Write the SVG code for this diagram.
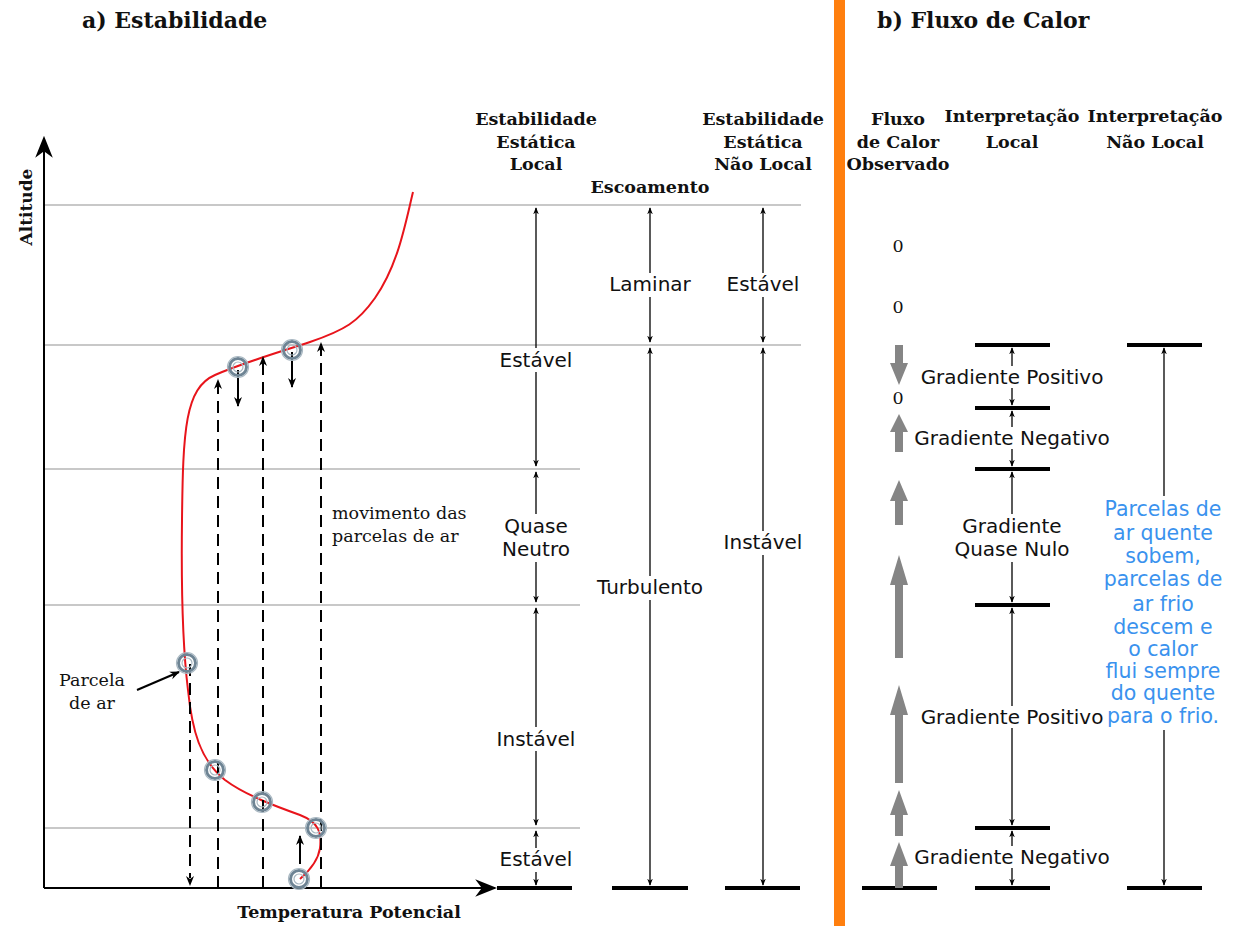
<svg xmlns="http://www.w3.org/2000/svg" width="1236" height="926" viewBox="0 0 1236 926">
<defs>
<style>
.ttl{font-family:"DejaVu Serif",serif;font-weight:bold;font-size:22px;fill:#111}
.hd{font-family:"DejaVu Serif",serif;font-weight:bold;font-size:17.5px;fill:#111;text-anchor:middle}
.sr{font-family:"DejaVu Serif",serif;font-size:17.5px;fill:#111}
.sn{font-family:"DejaVu Sans",sans-serif;font-size:20px;fill:#111;text-anchor:middle}
.bl{font-family:"DejaVu Sans",sans-serif;font-size:20.5px;fill:#3a92ee;text-anchor:middle}
.grid{stroke:#c8c8c8;stroke-width:2;fill:none}
.ar{stroke:#000;stroke-width:1.3;fill:none;marker-start:url(#ah);marker-end:url(#ah)}
.bar{stroke:#000;stroke-width:4}
.dash{stroke:#000;stroke-width:2;stroke-dasharray:12,7;fill:none}
.sm{stroke:#000;stroke-width:2;fill:none;marker-end:url(#ah2)}
.gr{fill:#858585}
.pc{fill:none;stroke:#6e8494;stroke-width:3}
.pc2{fill:none;stroke:#a9b8c2;stroke-width:1.2}
</style>
<marker id="ah" viewBox="0 0 10 10" refX="9" refY="5" markerWidth="7" markerHeight="7" orient="auto-start-reverse" markerUnits="userSpaceOnUse"><path d="M0,1 L10,5 L0,9 L3,5 z" fill="#000"/></marker>
<marker id="ah2" viewBox="0 0 10 10" refX="9" refY="5" markerWidth="10" markerHeight="10" orient="auto" markerUnits="userSpaceOnUse"><path d="M0,1 L10,5 L0,9 L3,5 z" fill="#000"/></marker>
<marker id="ah3" viewBox="0 0 10 10" refX="9" refY="5" markerWidth="22" markerHeight="22" orient="auto" markerUnits="userSpaceOnUse"><path d="M0,1 L10,5 L0,9 L3,5 z" fill="#000"/></marker>
<symbol id="parcel" overflow="visible"><circle r="8.5" class="pc"/><circle r="5" class="pc2"/><circle r="10.5" class="pc2"/></symbol>
</defs>
<rect width="1236" height="926" fill="#fff"/>

<rect x="834" y="0" width="11" height="926" fill="#ff7f0e"/>

<text class="ttl" x="82" y="28">a) Estabilidade</text>
<text class="ttl" x="877" y="28">b) Fluxo de Calor</text>

<g id="grid">
<line class="grid" x1="44" y1="205" x2="801" y2="205"/>
<line class="grid" x1="44" y1="345" x2="801" y2="345"/>
<line class="grid" x1="44" y1="469" x2="580" y2="469"/>
<line class="grid" x1="44" y1="605" x2="580" y2="605"/>
<line class="grid" x1="44" y1="828" x2="580" y2="828"/>
</g>

<g id="axes">
<line x1="44" y1="888" x2="44" y2="138" stroke="#000" stroke-width="2" marker-end="url(#ah3)"/>
<line x1="44" y1="888" x2="495" y2="888" stroke="#000" stroke-width="2" marker-end="url(#ah3)"/>
<text class="ttl" style="font-size:17px" transform="translate(32,207) rotate(-90)" text-anchor="middle">Altitude</text>
<text class="ttl" style="font-size:17.5px" x="349" y="918" text-anchor="middle">Temperatura Potencial</text>
</g>

<g id="headers">
<text class="hd" x="536" y="125">Estabilidade</text>
<text class="hd" x="536" y="148">Estática</text>
<text class="hd" x="536" y="170">Local</text>
<text class="hd" x="650" y="193">Escoamento</text>
<text class="hd" x="763" y="125">Estabilidade</text>
<text class="hd" x="763" y="148">Estática</text>
<text class="hd" x="763" y="170">Não Local</text>
<text class="hd" x="898" y="125">Fluxo</text>
<text class="hd" x="898" y="148">de Calor</text>
<text class="hd" x="898" y="170">Observado</text>
<text class="hd" x="1012" y="122">Interpretação</text>
<text class="hd" x="1012" y="148">Local</text>
<text class="hd" x="1155" y="122">Interpretação</text>
<text class="hd" x="1155" y="148">Não Local</text>
</g>

<g id="connectors">
<line class="ar" x1="536" y1="208" x2="536" y2="466"/>
<line class="ar" x1="536" y1="472" x2="536" y2="602"/>
<line class="ar" x1="536" y1="608" x2="536" y2="825"/>
<line class="ar" x1="536" y1="831" x2="536" y2="885"/>
<line class="ar" x1="650" y1="208" x2="650" y2="342"/>
<line class="ar" x1="650" y1="348" x2="650" y2="885"/>
<line class="ar" x1="763" y1="208" x2="763" y2="342"/>
<line class="ar" x1="763" y1="348" x2="763" y2="885"/>
<line class="ar" x1="1012" y1="348" x2="1012" y2="405"/>
<line class="ar" x1="1012" y1="411" x2="1012" y2="466"/>
<line class="ar" x1="1012" y1="472" x2="1012" y2="602"/>
<line class="ar" x1="1012" y1="608" x2="1012" y2="825"/>
<line class="ar" x1="1012" y1="831" x2="1012" y2="885"/>
<line x1="1164" y1="348" x2="1164" y2="496" stroke="#000" stroke-width="1.3" marker-start="url(#ah)"/>
<line x1="1164" y1="730" x2="1164" y2="885" stroke="#000" stroke-width="1.3" marker-end="url(#ah)"/>
</g>

<g id="bars">
<line class="bar" x1="497" y1="888" x2="572" y2="888"/>
<line class="bar" x1="612" y1="888" x2="688" y2="888"/>
<line class="bar" x1="725" y1="888" x2="800" y2="888"/>
<line class="bar" x1="862" y1="888" x2="937" y2="888"/>
<line class="bar" x1="975" y1="888" x2="1050" y2="888"/>
<line class="bar" x1="1127" y1="888" x2="1202" y2="888"/>
<line class="bar" x1="975" y1="345" x2="1050" y2="345"/>
<line class="bar" x1="975" y1="408" x2="1050" y2="408"/>
<line class="bar" x1="975" y1="469" x2="1050" y2="469"/>
<line class="bar" x1="975" y1="605" x2="1050" y2="605"/>
<line class="bar" x1="975" y1="828" x2="1050" y2="828"/>
<line class="bar" x1="1127" y1="345" x2="1202" y2="345"/>
</g>

<g id="labels-a">
<rect x="494" y="348" width="84" height="24" fill="#fff"/>
<text class="sn" x="536" y="367">Estável</text>
<rect x="494" y="514" width="84" height="48" fill="#fff"/>
<text class="sn" x="536" y="533">Quase</text>
<text class="sn" x="536" y="556">Neutro</text>
<rect x="490" y="727" width="92" height="24" fill="#fff"/>
<text class="sn" x="536" y="746">Instável</text>
<rect x="494" y="848" width="84" height="24" fill="#fff"/>
<text class="sn" x="536" y="866">Estável</text>
<rect x="602" y="273" width="96" height="24" fill="#fff"/>
<text class="sn" x="650" y="291">Laminar</text>
<rect x="590" y="576" width="120" height="24" fill="#fff"/>
<text class="sn" x="650" y="594">Turbulento</text>
<rect x="721" y="273" width="84" height="24" fill="#fff"/>
<text class="sn" x="763" y="291">Estável</text>
<rect x="717" y="531" width="92" height="24" fill="#fff"/>
<text class="sn" x="763" y="549">Instável</text>
</g>

<g id="labels-b">
<rect x="916" y="366" width="192" height="22" fill="#fff"/>
<text class="sn" x="1012" y="384">Gradiente Positivo</text>
<rect x="908" y="427" width="208" height="22" fill="#fff"/>
<text class="sn" x="1012" y="445">Gradiente Negativo</text>
<rect x="950" y="514" width="124" height="48" fill="#fff"/>
<text class="sn" x="1012" y="533">Gradiente</text>
<text class="sn" x="1012" y="556">Quase Nulo</text>
<rect x="916" y="706" width="192" height="22" fill="#fff"/>
<text class="sn" x="1012" y="724">Gradiente Positivo</text>
<rect x="908" y="846" width="208" height="22" fill="#fff"/>
<text class="sn" x="1012" y="864">Gradiente Negativo</text>
<text class="bl" x="1163" y="516">Parcelas de</text>
<text class="bl" x="1163" y="540">ar quente</text>
<text class="bl" x="1163" y="563">sobem,</text>
<text class="bl" x="1163" y="586">parcelas de</text>
<text class="bl" x="1163" y="611">ar frio</text>
<text class="bl" x="1163" y="634">descem e</text>
<text class="bl" x="1163" y="656">o calor</text>
<text class="bl" x="1163" y="678">flui sempre</text>
<text class="bl" x="1163" y="700">do quente</text>
<text class="bl" x="1163" y="723">para o frio.</text>
</g>

<g id="flux">
<text class="sr" x="898" y="252" text-anchor="middle">0</text>
<text class="sr" x="898" y="313" text-anchor="middle">0</text>
<text class="sr" x="898" y="404" text-anchor="middle">0</text>
<path class="gr" d="M895,345 h8 v18 h5 l-9,22 l-9,-22 h5 z"/>
<path class="gr" d="M895,452 v-20 h-5 l9,-18 l9,18 h-5 v20 z"/>
<path class="gr" d="M895,525 v-24 h-5 l9,-21 l9,21 h-5 v24 z"/>
<path class="gr" d="M895,658 v-73 h-5 l9,-30 l9,30 h-5 v73 z"/>
<path class="gr" d="M895,783 v-68 h-5 l9,-30 l9,30 h-5 v68 z"/>
<path class="gr" d="M895,836 v-21 h-5 l9,-25 l9,25 h-5 v21 z"/>
<path class="gr" d="M895,888 v-22 h-5 l9,-24 l9,24 h-5 v22 z"/>
</g>

<g id="profile">
<path d="M413,192 C405,225 398,265 375,298 C358,322 345,330 310,342 C280,352 245,362 215,375 C185,388 183,430 182,520 C181,600 183,650 188,690 C192,730 200,760 225,780 C245,795 275,806 300,815 C318,822 322,832 320,848 C318,862 308,872 300,879" fill="none" stroke="#e8141b" stroke-width="2"/>
</g>

<g id="motion">
<line class="dash" x1="190" y1="664" x2="190" y2="878"/>
<path d="M190,886 l-4,-10 l4,3 l4,-3 z" fill="#000"/>
<line class="dash" x1="218" y1="888" x2="218" y2="380" marker-end="url(#ah2)"/>
<line class="dash" x1="263" y1="888" x2="263" y2="357" marker-end="url(#ah2)"/>
<line class="dash" x1="321" y1="888" x2="321" y2="343" marker-end="url(#ah2)"/>
<line class="sm" x1="238" y1="370" x2="238" y2="406"/>
<line class="sm" x1="292" y1="352" x2="292" y2="387"/>
<line class="sm" x1="300" y1="864" x2="300" y2="836"/>
<line class="sm" x1="137" y1="690" x2="179" y2="672"/>
<text class="sr" x="92" y="686" text-anchor="middle">Parcela</text>
<text class="sr" x="92" y="709" text-anchor="middle">de ar</text>
<text class="sr" x="332" y="519">movimento das</text>
<text class="sr" x="332" y="542">parcelas de ar</text>
</g>

<g id="parcels">
<use href="#parcel" x="238" y="367"/>
<use href="#parcel" x="292" y="350"/>
<use href="#parcel" x="187" y="663"/>
<use href="#parcel" x="215" y="770"/>
<use href="#parcel" x="262" y="802"/>
<use href="#parcel" x="316" y="828"/>
<use href="#parcel" x="299" y="879"/>
</g>
</svg>
